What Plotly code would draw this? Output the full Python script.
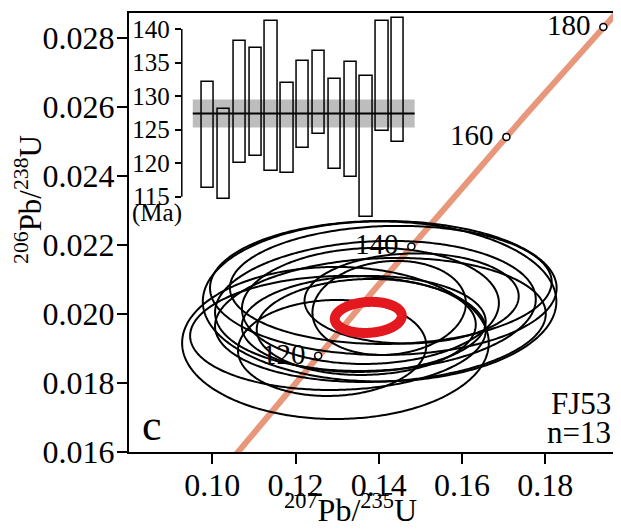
import numpy as np
import plotly.graph_objects as go

# ---------------- data ----------------
LAMBDA_238 = 1.55125e-10   # 1/yr
LAMBDA_235 = 9.8485e-10    # 1/yr

# spot analyses: 207Pb/235U, 206Pb/238U, 1-sigma errors, error correlation
x_207_235 = [0.1302, 0.1288, 0.1392, 0.1380, 0.1402, 0.1370, 0.1425,
             0.1479, 0.1364, 0.1404, 0.1296, 0.1429, 0.1411]
sx_207_235 = [0.01451, 0.00924, 0.01574, 0.01261, 0.01735, 0.01075, 0.00753,
              0.01051, 0.01197, 0.01623, 0.01505, 0.01579, 0.01701]
y_206_238 = [0.019449, 0.019014, 0.020232, 0.020232, 0.020362, 0.019623, 0.020174,
             0.020449, 0.019710, 0.019826, 0.019159, 0.020841, 0.020754]
sy_206_238 = [0.000675, 0.000568, 0.000770, 0.000687, 0.000947, 0.000568, 0.000557,
              0.000533, 0.000568, 0.000734, 0.000900, 0.000699, 0.000793]
err_rho = [0.05, 0.05, 0.10, 0.05, 0.00, 0.05, 0.10, 0.05, 0.05, 0.10, 0.00, 0.05, 0.00]

# concordia age ellipse
conc_x, conc_sx = 0.1375, 0.00329
conc_y, conc_sy = 0.01990, 0.000184
conc_rho = 0.10

# concordia age ticks
concordia_tick_ages = [120, 140, 160, 180]

# inset: 206Pb/238U ages (Ma) and 2-sigma errors
spot_age = [124.2, 121.4, 129.1, 129.1, 130.0, 125.2, 128.7,
            130.5, 125.8, 126.5, 122.5, 133.0, 132.4]
spot_err = [7.9, 6.7, 9.1, 8.0, 11.2, 6.7, 6.5, 6.2, 6.7, 8.6, 10.5, 8.2, 9.3]
wm_age, wm_err = 127.4, 2.1
inset_ticks = [115, 120, 125, 130, 135, 140]

sample_name = "FJ53"
n_label = "n=13"
panel_label = "c"

# ---------------- helpers ----------------
K95 = 2.4477


def ellipse(mx, my, sx, sy, r, n=360):
    th = np.linspace(0, 2 * np.pi, n)
    ex = mx + K95 * sx * np.cos(th)
    ey = my + K95 * sy * (r * np.cos(th) + np.sqrt(1 - r * r) * np.sin(th))
    return ex, ey


def conc(t_ma):
    t = np.asarray(t_ma, dtype=float) * 1e6
    return np.exp(LAMBDA_235 * t) - 1, np.exp(LAMBDA_238 * t) - 1


FONT = "Liberation Serif"
fig = go.Figure()

# concordia curve
tt = np.linspace(90, 200, 400)
ccx, ccy = conc(tt)
fig.add_trace(go.Scatter(x=ccx, y=ccy, mode="lines",
                         line=dict(color="#E8977B", width=6),
                         hoverinfo="skip", showlegend=False))

# spot ellipses
for mx, my, sx, sy, r in zip(x_207_235, y_206_238, sx_207_235, sy_206_238, err_rho):
    ex, ey = ellipse(mx, my, sx, sy, r)
    fig.add_trace(go.Scatter(x=ex, y=ey, mode="lines",
                             line=dict(color="black", width=2, simplify=False),
                             hoverinfo="skip", showlegend=False))

# concordia age ellipse
ex, ey = ellipse(conc_x, conc_y, conc_sx, conc_sy, conc_rho)
fig.add_trace(go.Scatter(x=ex, y=ey, mode="lines",
                         line=dict(color="#E3191F", width=10, simplify=False),
                         hoverinfo="skip", showlegend=False))

# age markers on concordia
mkx, mky = conc(concordia_tick_ages)
fig.add_trace(go.Scatter(x=mkx, y=mky, mode="markers",
                         marker=dict(size=7, color="white",
                                     line=dict(color="black", width=1.5)),
                         hoverinfo="skip", showlegend=False))

annotations = []
for a, px, py in zip(concordia_tick_ages, mkx, mky):
    annotations.append(dict(x=px, y=py, xref="x", yref="y", text=str(a),
                            showarrow=False, xanchor="right", yanchor="middle",
                            xshift=-10, yshift=2,
                            font=dict(family=FONT, size=29, color="black")))

# ---------------- inset ----------------
idx = list(range(1, len(spot_age) + 1))
lo = [a - e for a, e in zip(spot_age, spot_err)]
span = [2 * e for e in spot_err]
fig.add_trace(go.Bar(x=idx, y=span, base=lo, width=0.78,
                     marker=dict(color="rgba(0,0,0,0)",
                                 line=dict(color="black", width=1.5)),
                     xaxis="x2", yaxis="y2", hoverinfo="skip", showlegend=False))

shapes = [
    dict(type="rect", xref="x2", yref="y2", x0=0.04, x1=14.06,
         y0=wm_age - wm_err, y1=wm_age + wm_err,
         fillcolor="#BDBDBD", line=dict(width=0), layer="below"),
    dict(type="line", xref="x2", yref="y2", x0=0.04, x1=14.06,
         y0=wm_age, y1=wm_age, line=dict(color="black", width=2)),
    dict(type="line", xref="paper", yref="y2", x0=0.1084, x1=0.1084,
         y0=inset_ticks[0], y1=inset_ticks[-1], line=dict(color="black", width=1.5)),
]

annotations += [
    dict(x=0.0583, y=0.5444, xref="paper", yref="paper", text="(Ma)",
         showarrow=False, xanchor="center", yanchor="middle",
         font=dict(family=FONT, size=25, color="black")),
    dict(x=0.048, y=0.06, xref="paper", yref="paper", text=panel_label,
         showarrow=False, xanchor="center", yanchor="middle",
         font=dict(family=FONT, size=44, color="black")),
    dict(x=0.993, y=0.11, xref="paper", yref="paper", text=sample_name,
         showarrow=False, xanchor="right", yanchor="middle",
         font=dict(family=FONT, size=31, color="black")),
    dict(x=0.993, y=0.045, xref="paper", yref="paper", text=n_label,
         showarrow=False, xanchor="right", yanchor="middle",
         font=dict(family=FONT, size=31, color="black")),
    dict(x=0.455, y=-0.128, xref="paper", yref="paper",
         text="<sup>207</sup>Pb/<sup>235</sup>U",
         showarrow=False, xanchor="center", yanchor="middle",
         font=dict(family=FONT, size=32, color="black")),
    dict(x=-0.2076, y=0.5763, xref="paper", yref="paper",
         text="<sup>206</sup>Pb/<sup>238</sup>U", textangle=-90,
         showarrow=False, xanchor="center", yanchor="middle",
         font=dict(family=FONT, size=31, color="black")),
]

# page body has an 8px default margin: the figure is sized/offset to compensate
fig.update_layout(
    width=613, height=521,
    margin=dict(l=121, r=3, t=5, b=77),
    paper_bgcolor="white", plot_bgcolor="white",
    showlegend=False,
    font=dict(family=FONT, color="black"),
    xaxis=dict(range=[0.08, 0.197], tickvals=[0.10, 0.12, 0.14, 0.16, 0.18],
               tickformat=".2f", ticks="outside", ticklen=10, tickwidth=1.5,
               tickcolor="black", showline=True, linewidth=2, linecolor="black",
               mirror=True, showgrid=False, zeroline=False, ticklabelstandoff=-6,
               tickfont=dict(family=FONT, size=32, color="black")),
    yaxis=dict(range=[0.016, 0.02872],
               tickvals=[0.016, 0.018, 0.020, 0.022, 0.024, 0.026, 0.028],
               tickformat=".3f", ticks="outside", ticklen=10, tickwidth=1.5,
               tickcolor="black", showline=True, linewidth=2, linecolor="black",
               mirror=True, showgrid=False, zeroline=False, ticklabelstandoff=-4,
               tickfont=dict(family=FONT, size=32, color="black")),
    xaxis2=dict(domain=[0.1084, 0.5869], range=[-0.654, 14.063], anchor="y2",
                visible=False),
    yaxis2=dict(domain=[0.5285, 0.9954], range=[111.53, 142.08], anchor="x2",
                tickvals=inset_ticks, ticks="outside", ticklen=6, tickwidth=1.5,
                tickcolor="black", showline=False, showgrid=False, zeroline=False,
                tickfont=dict(family=FONT, size=25, color="black")),
    shapes=shapes,
    annotations=annotations,
    bargap=0,
)

fig.write_html("out.html")
